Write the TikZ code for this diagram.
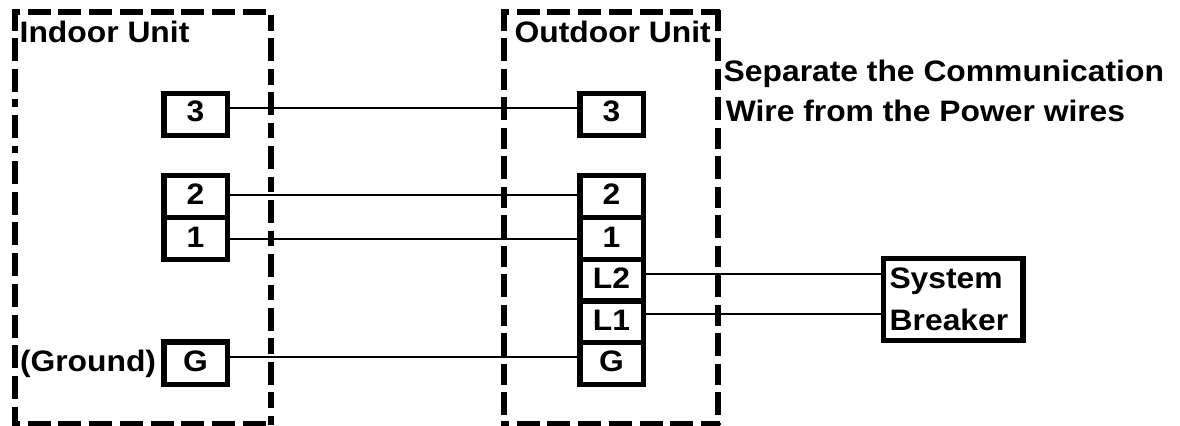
\documentclass[tikz,border=0pt]{standalone}
\usepackage{fontspec}
\setmainfont[FakeStretch=1.075]{Liberation Sans}
\newcommand{\cellbox}[6]{% name, x centre, top, bottom, baseline, text
  \pgfmathsetmacro{\cbH}{(#5-#3)*0.75}\pgfmathsetmacro{\cbD}{(#4-#5)*0.75}
  \node[cell,anchor=north,text height=\cbH pt,text depth=\cbD pt] (#1) at (#2,#3) {#6};}
\newcommand{\wirelink}[3]{\draw[wire] (#1.east |- 0,#3) -- (#2.west |- 0,#3);}
\tikzset{
  cell/.style={draw=black,line width=4.1pt,fill=white,inner sep=0pt,outer sep=0pt,minimum width=47.6pt,font=\lbl},
  wire/.style={draw=black,line width=1.5pt},
  unitside/.style={draw=black,line width=4.4pt},
  sidedash/.style={dash pattern=on 17.25pt off 5.78pt},
  lbl/.style={inner sep=0pt,outer sep=0pt,anchor=base west,font=\lbl},
  breakerbox/.style={draw=black,line width=4.1pt,fill=white,inner sep=0pt,outer sep=0pt,minimum width=104.25pt,minimum height=61.5pt}
}
\newcommand{\lbl}{\fontsize{22.2}{28}\selectfont\bfseries}
\begin{document}
\begin{tikzpicture}[x=0.75pt,y=-0.75pt]
\clip (0,0) rectangle (1180,425);
% indoor unit outline
\draw[unitside,sidedash,dash phase=11.25pt] (12,12) -- (268,12);
\draw[unitside,sidedash,dash phase=11.25pt] (12,424) -- (268,424);
\draw[unitside,dash pattern=on 15.5pt off 5.7pt on 17pt off 5.7pt on 17.5pt off 5.7pt on 5.5pt off 5.8pt on 17.5pt off 6pt on 5.2pt off 6.2pt on 17.25pt off 5.78pt on 17.25pt off 5.78pt on 17.25pt off 5.78pt on 17.25pt off 5.78pt on 17.25pt off 5.78pt on 17.25pt off 5.78pt on 17.25pt off 5.78pt on 17.25pt off 5.78pt on 17.25pt off 5.78pt] (15,10) -- (15,425);
\draw[unitside,dash pattern=on 11.7pt off 5.7pt on 17.25pt off 5.78pt] (271,15) -- (271,425);
% outdoor unit outline
\draw[unitside,sidedash,dash phase=11.25pt] (501,12) -- (720,12);
\draw[unitside,sidedash,dash phase=11.25pt] (501,424) -- (720,424);
\draw[unitside,dash pattern=on 15.5pt off 5.7pt on 17.25pt off 5.78pt] (504,10) -- (504,425);
\draw[unitside,dash pattern=on 15.5pt off 5.7pt on 17.25pt off 5.78pt] (718,10) -- (718,425);
% terminals: indoor
\cellbox{ithree}{195.5}{93.75}{135.25}{121.5}{3}
\cellbox{itwo}{195.5}{175.75}{217.5}{204.5}{2}
\cellbox{ione}{195.5}{217.5}{259.5}{247.5}{1}
\cellbox{ignd}{195.5}{342}{384.5}{371}{G}
% terminals: outdoor
\cellbox{othree}{611.5}{93.75}{135.25}{121.5}{3}
\cellbox{otwo}{611.5}{175.75}{217.5}{204.5}{2}
\cellbox{oone}{611.5}{217.5}{259.5}{247.5}{1}
\cellbox{olt}{611.5}{259.5}{301}{288.3}{L2}
\cellbox{olo}{611.5}{301}{342.5}{330}{L1}
\cellbox{ognd}{611.5}{342.5}{384.5}{371}{G}
% breaker
\node[breakerbox,anchor=north west] (brk) at (883.75,258.75) {};
% wires
\wirelink{ithree}{othree}{108}
\wirelink{itwo}{otwo}{195}
\wirelink{ione}{oone}{239}
\wirelink{ignd}{ognd}{357}
\draw[wire] (olt.east |- 0,274) -- (brk.west |- 0,274);
\draw[wire] (olo.east |- 0,314) -- (brk.west |- 0,314);
% labels
\node[lbl] (indoorlabel) at (19.7,42.3) {Indoor Unit};
\node[lbl] (outdoorlabel) at (514.6,42.3) {Outdoor Unit};
\node[lbl] (noteone) at (723.7,81.7) {Separate the Communication};
\node[lbl] (notetwo) at (725.8,121.7) {Wire from the Power wires};
\node[lbl] (groundlabel) at (20,371) {(Ground)};
\node[lbl] (system) at (889.5,288.3) {System};
\node[lbl] (breaker) at (889.7,330) {Breaker};
\end{tikzpicture}
\end{document}
